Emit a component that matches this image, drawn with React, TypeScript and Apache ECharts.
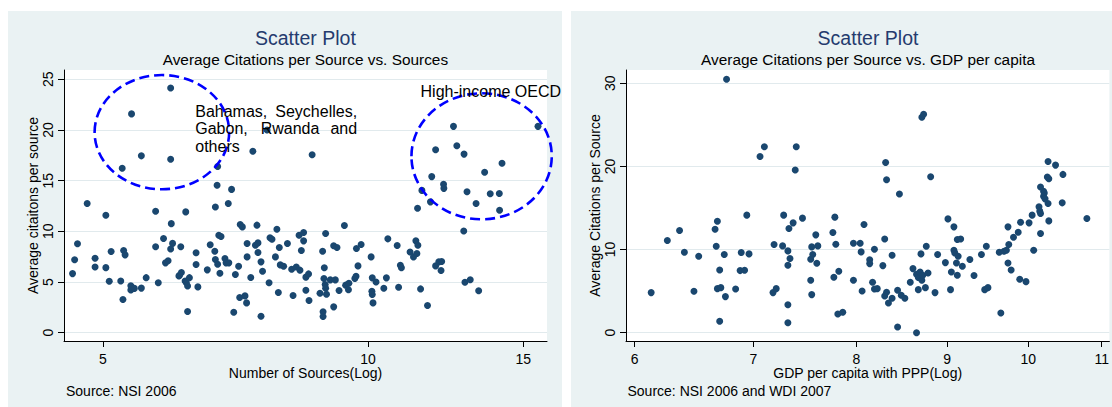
import React, { useEffect, useRef } from 'react';
import * as echarts from 'echarts';

const FONT = "'Liberation Sans', Arial, Helvetica, sans-serif";
const NAVY = '#1A476F';
const TITLE_COLOR = '#253B6E';
const PANEL_BG = '#EAF2F3';
const GRID_LINE = '#E1EAED';

// Left panel: number of sources (log scale) vs average citations per source
const sourcesX = [
  4.80, 4.62, 4.645, 4.68, 4.90, 4.90, 5.04, 5.04, 5.085, 5.11, 5.24, 5.27, 5.28, 5.30, 5.38, 5.38, 5.43, 5.53, 5.60, 5.74,
  5.74, 5.78, 5.86, 5.89, 5.93, 5.97, 5.98, 6.00, 6.10, 6.11, 6.14, 6.13, 6.21, 6.20, 6.22, 6.24, 6.24, 6.27,
  6.71, 6.94, 7.16, 7.20, 7.48, 7.88, 9.40, 11.38, 6.77, 6.81, 6.38, 6.38, 6.41, 6.57, 6.62, 6.70, 6.71, 6.75, 6.79, 6.88,
  6.90, 6.95, 7.04, 7.07, 7.13, 7.15, 7.25, 7.28, 7.29, 7.29, 7.36, 7.45, 7.50, 7.50, 7.56, 7.59, 7.56, 7.72, 7.74, 7.78,
  7.85, 7.91, 7.93, 7.95, 8.02, 8.10, 8.19, 8.22, 8.29, 8.37, 8.35, 8.45, 8.45, 8.40, 8.50, 8.56, 8.50, 8.57, 8.82, 8.88,
  8.92, 8.91, 8.94, 8.95, 8.97, 8.89, 8.89, 8.95, 9.06, 9.18, 9.14, 9.22, 9.14, 9.27, 9.43, 9.51, 9.50, 9.66, 9.69, 9.70,
  9.82, 9.74, 10.08, 10.11, 10.21, 10.10, 10.11, 10.13, 10.42, 10.49, 10.53, 10.79, 10.83, 10.88, 10.91, 11.16, 11.26, 11.33,
  11.39, 11.36, 11.47, 11.68,
  11.77, 11.93, 12.03, 12.10, 12.12, 12.84, 12.88, 13.06, 13.26, 13.35, 14.10,
  5.97, 5.39, 5.53, 5.26, 5.97, 6.75, 6.74, 7.00, 7.40, 8.64, 7.68,
  12.50, 15.59, 12.61, 11.93, 12.85, 14.19, 13.56, 11.81, 12.18, 12.19, 11.51, 12.95, 13.76, 14.09,
];
const citationsA = [
  12.75, 5.83, 7.19, 8.77, 6.49, 7.35, 11.59, 6.42, 5.07, 8.01, 5.10, 3.28, 8.11, 7.68, 4.64, 4.21, 4.37, 4.40, 5.43, 11.99,
  8.48, 4.93, 9.30, 6.89, 7.09, 8.25, 10.76, 8.81, 5.60, 5.66, 5.93, 8.48, 11.92, 5.10, 4.93, 4.60, 2.09, 5.43,
  12.41, 12.74, 10.67, 10.44, 10.61, 10.21, 10.57, 12.28, 9.62, 9.49, 7.88, 6.73, 4.52, 6.20, 8.67, 8.04, 7.22, 6.76, 5.87, 7.32,
  6.89, 6.89, 2.02, 5.74, 6.56, 3.47, 3.63, 2.94, 8.80, 7.48, 5.44, 8.63, 8.86, 7.91, 6.99, 6.07, 1.63, 4.92, 9.36, 9.22,
  7.48, 3.96, 8.40, 6.69, 6.56, 8.80, 6.26, 3.67, 6.49, 6.17, 9.62, 9.88, 9.06, 8.11, 5.48, 5.80, 4.19, 3.17, 3.90, 8.04,
  6.40, 5.34, 4.75, 4.39, 3.80, 2.06, 1.60, 9.78, 5.21, 5.21, 8.57, 8.40, 2.55, 4.16, 4.69, 4.88, 4.23, 5.34, 5.57, 8.30,
  8.70, 6.59, 7.48, 5.41, 5.01, 4.09, 3.77, 2.94, 4.39, 5.41, 9.26, 8.60, 4.49, 6.66, 6.40, 7.97, 7.48, 9.06,
  8.63, 7.81, 4.32, 2.68,
  12.91, 6.59, 6.99, 6.13, 7.02, 10.03, 4.97, 5.23, 12.75, 4.14, 12.09,
  24.14, 21.59, 17.45, 16.23, 17.12, 16.39, 14.54, 14.14, 17.91, 17.55, 20.00,
  20.36, 20.36, 18.44, 18.05, 17.62, 16.72, 15.83, 15.40, 14.64, 14.24, 14.04, 13.91, 13.71, 13.74,
];

// Right panel: GDP per capita with PPP (log scale) vs average citations per source
const gdpX = [
  6.13, 6.26, 6.36, 6.40, 6.48, 6.52, 6.66, 6.67, 6.68, 6.68, 6.70, 6.70, 6.71, 6.74, 6.75, 6.84, 6.88, 6.89, 6.92, 6.94,
  6.96, 7.18, 7.19, 7.21, 7.27, 7.28, 7.32, 7.32, 7.32, 7.32, 7.33, 7.34, 7.37, 7.46, 7.54, 7.54, 7.55, 7.55, 7.56, 7.59,
  7.60, 7.61, 7.76, 7.77, 7.78, 7.79, 7.81, 7.82, 7.86, 7.97, 7.97, 8.04, 8.05, 8.06, 8.08, 8.14, 8.14, 8.17, 8.19, 8.19,
  8.22, 8.28, 8.30, 8.30, 8.32, 8.34, 8.38, 8.38, 8.44, 8.44, 8.48, 8.52, 8.58, 8.61, 8.65, 8.65, 8.67, 8.67, 8.69, 8.70,
  8.71, 8.72, 8.75, 8.76, 8.78, 8.86, 8.89, 8.98, 9.01, 9.04, 9.05, 9.08, 9.08, 9.09, 9.11, 9.12, 9.12, 9.13, 9.16, 9.18,
  9.27, 9.32, 9.41, 9.45, 9.47, 9.49, 9.63, 9.65, 9.69, 9.72, 9.74, 9.74, 9.75, 9.78, 9.81, 9.87, 9.89, 9.90, 9.97, 10.01,
  10.05, 10.07, 10.14, 10.15, 10.16, 10.16, 10.27, 10.26, 10.45, 10.79,
  6.76, 7.06, 7.10, 7.40, 7.39, 8.31, 8.32, 8.46, 8.71, 8.73, 8.81, 10.26, 10.36, 10.25, 10.27, 10.46, 10.16, 10.20, 10.21,
  10.20, 10.22,
];
const citationsB = [
  4.82, 11.08, 12.29, 9.68, 4.98, 9.20, 12.45, 10.40, 13.41, 5.30, 7.55, 1.37, 5.42, 9.40, 4.34, 5.26, 7.47, 9.64, 7.51, 14.14,
  9.48, 4.82, 10.60, 5.30, 10.44, 14.14, 3.37, 1.20, 8.11, 9.84, 12.53, 8.92, 13.21, 13.78, 6.31, 8.84, 10.32, 4.58, 9.40, 11.77,
  8.35, 10.44, 12.05, 6.67, 13.90, 10.64, 2.25, 7.39, 2.45, 6.31, 10.76, 10.76, 9.72, 5.02, 13.01, 8.76, 8.31, 6.06, 10.04, 5.26,
  5.30, 8.07, 11.28, 4.42, 4.86, 3.57, 9.32, 4.14, 5.10, 0.68, 4.50, 4.14, 6.06, 7.71, 0.00, 7.03, 6.63, 5.18, 7.31, 9.48,
  6.31, 6.91, 5.42, 10.40, 7.19, 4.82, 9.40, 8.43, 13.69, 5.18, 7.31, 9.92, 12.73, 9.60, 8.39, 6.91, 11.20, 9.20, 11.28, 7.99,
  8.80, 6.87, 9.40, 5.18, 10.40, 5.42, 9.68, 2.37, 9.80, 9.92, 8.39, 12.73, 10.60, 7.55, 11.49, 12.09, 6.43, 13.29, 6.14, 13.21,
  14.14, 9.92, 15.14, 14.62, 14.34, 11.93, 13.45, 15.54, 15.62, 13.73,
  30.48, 21.20, 22.36, 22.36, 19.56, 20.48, 18.40, 16.68, 25.92, 26.28, 18.76, 20.60, 20.16, 18.72, 18.52, 19.04, 17.52, 17.00, 16.80,
  16.40, 16.10,
];

// Tick values
const leftXTicks = [5, 10, 15];
const leftYTicks = [0, 5, 10, 15, 20, 25];
const rightXTicks = [6, 7, 8, 9, 10, 11];
const rightYTicks = [0, 10, 20, 30];

// Annotation ellipses in data space: [xLeft, xRight, yBottom, yTop]
const ellipseBounds = [
  [4.894, 6.956, 14.15, 25.42],
  [11.2, 16.16, 11.19, 23.62],
];
// Annotation words (justified block) in data space
const noteWords = [
  { text: 'Bahamas,', x: 6.366, y: 21.87, align: 'left' },
  { text: 'Seychelles,', x: 9.718, y: 21.87, align: 'right' },
  { text: 'Gabon,', x: 6.366, y: 20.12, align: 'left' },
  { text: 'Rwanda', x: 7.553, y: 20.12, align: 'left' },
  { text: 'and', x: 9.718, y: 20.12, align: 'right' },
  { text: 'others', x: 6.366, y: 18.39, align: 'left' },
  { text: 'High-income OECD', x: 11.47, y: 23.78, align: 'left' },
];

const pairs = (xs: number[], ys: number[]) => xs.map((x, i) => [x, ys[i]]);

function xAxisOpt(gridIndex: number, min: number, max: number, ticks: number[], name: string) {
  return {
    gridIndex,
    type: 'log',
    logBase: 10,
    min,
    max,
    name,
    nameLocation: 'middle',
    nameGap: 25,
    nameMoveOverlap: false,
    nameTextStyle: { color: '#000', fontSize: 14, lineHeight: 14, fontFamily: FONT },
    axisLine: { onZero: false, lineStyle: { color: '#000', width: 1 } },
    axisTick: { show: true, length: 6, inside: false, customValues: ticks, lineStyle: { color: '#000', width: 1 } },
    axisLabel: {
      customValues: ticks,
      margin: 11,
      color: '#000',
      fontSize: 14,
      lineHeight: 14,
      fontFamily: FONT,
      formatter: (v: number) => String(Math.round(v)),
    },
    splitLine: { show: false },
    minorTick: { show: false },
    minorSplitLine: { show: false },
  };
}

function yAxisOpt(gridIndex: number, min: number, max: number, ticks: number[], name: string) {
  return {
    gridIndex,
    type: 'value',
    min,
    max,
    name,
    nameLocation: 'middle',
    nameGap: 24,
    nameRotate: 90,
    nameMoveOverlap: false,
    nameTextStyle: { color: '#000', fontSize: 14, fontFamily: FONT },
    axisLine: { show: true, onZero: false, lineStyle: { color: '#000', width: 1 } },
    axisTick: { show: true, length: 6, inside: false, customValues: ticks, lineStyle: { color: '#000', width: 1 } },
    axisLabel: {
      customValues: ticks,
      rotate: 90,
      margin: 9,
      color: '#000',
      fontSize: 14,
      fontFamily: FONT,
      formatter: (v: number) => String(Math.round(v)),
    },
    splitLine: { show: true, lineStyle: { color: GRID_LINE, width: 1 } },
  };
}

const pointStyle = { color: NAVY, opacity: 1 };

export default function App() {
  const ref = useRef<HTMLDivElement>(null);
  useEffect(() => {
    document.body.style.margin = '0';
    const chart = echarts.init(ref.current!, null, { renderer: 'svg' });
    const option: any = {
      animation: false,
      textStyle: { fontFamily: FONT },
      graphic: [
        { type: 'rect', z: -10, shape: { x: 8, y: 11, width: 554, height: 396 }, style: { fill: PANEL_BG }, silent: true },
        { type: 'rect', z: -10, shape: { x: 571, y: 11, width: 541, height: 396 }, style: { fill: PANEL_BG }, silent: true },
        { type: 'text', x: 305.4, y: 37.5, style: { text: 'Scatter Plot', fill: TITLE_COLOR, font: `19.5px ${FONT}`, textAlign: 'center', textVerticalAlign: 'middle', align: 'center', verticalAlign: 'middle' } },
        { type: 'text', x: 305.4, y: 59.8, style: { text: 'Average Citations per Source vs. Sources', fill: '#000', font: `15.4px ${FONT}`, textAlign: 'center', textVerticalAlign: 'middle', align: 'center', verticalAlign: 'middle' } },
        { type: 'text', x: 868, y: 37.5, style: { text: 'Scatter Plot', fill: TITLE_COLOR, font: `19.5px ${FONT}`, textAlign: 'center', textVerticalAlign: 'middle', align: 'center', verticalAlign: 'middle' } },
        { type: 'text', x: 868, y: 59.8, style: { text: 'Average Citations per Source vs. GDP per capita', fill: '#000', font: `15.4px ${FONT}`, textAlign: 'center', textVerticalAlign: 'middle', align: 'center', verticalAlign: 'middle' } },
        { type: 'text', x: 66, y: 391, style: { text: 'Source: NSI 2006', fill: '#000', font: `14px ${FONT}`, textAlign: 'left', textVerticalAlign: 'middle', align: 'left', verticalAlign: 'middle' } },
        { type: 'text', x: 627.5, y: 391, style: { text: 'Source: NSI 2006 and WDI 2007', fill: '#000', font: `14px ${FONT}`, textAlign: 'left', textVerticalAlign: 'middle', align: 'left', verticalAlign: 'middle' } },
      ],
      grid: [
        { left: 64, top: 70, width: 483, height: 271, show: true, backgroundColor: '#FFFFFF', borderWidth: 0, containLabel: false },
        { left: 626, top: 70, width: 484, height: 271, show: true, backgroundColor: '#FFFFFF', borderWidth: 0, containLabel: false },
      ],
      xAxis: [
        xAxisOpt(0, 4.518, 15.96, leftXTicks, 'Number of Sources(Log)'),
        xAxisOpt(1, 5.933, 11.11, rightXTicks, 'GDP per capita with PPP(Log)'),
      ],
      yAxis: [
        yAxisOpt(0, -0.82, 25.92, leftYTicks, 'Average citaitons per source'),
        yAxisOpt(1, -1.0, 31.6, rightYTicks, 'Average Citations per Source'),
      ],
      series: [
        {
          type: 'scatter',
          xAxisIndex: 0,
          yAxisIndex: 0,
          symbol: 'circle',
          symbolSize: 7,
          itemStyle: pointStyle,
          data: pairs(sourcesX, citationsA),
        },
        {
          type: 'scatter',
          xAxisIndex: 1,
          yAxisIndex: 1,
          symbol: 'circle',
          symbolSize: 7,
          itemStyle: pointStyle,
          data: pairs(gdpX, citationsB),
        },
        {
          type: 'custom',
          xAxisIndex: 0,
          yAxisIndex: 0,
          clip: false,
          silent: true,
          z: 5,
          data: ellipseBounds,
          encode: { x: [0, 1], y: [2, 3] },
          renderItem: (params: any, api: any) => {
            const p1 = api.coord([api.value(0), api.value(2)]);
            const p2 = api.coord([api.value(1), api.value(3)]);
            return {
              type: 'ellipse',
              shape: {
                cx: (p1[0] + p2[0]) / 2,
                cy: (p1[1] + p2[1]) / 2,
                rx: Math.abs(p2[0] - p1[0]) / 2,
                ry: Math.abs(p1[1] - p2[1]) / 2,
              },
              style: { fill: 'none', stroke: '#0000FF', lineWidth: 2.6, lineDash: [10, 5] },
            };
          },
        },
        {
          type: 'custom',
          xAxisIndex: 0,
          yAxisIndex: 0,
          clip: false,
          silent: true,
          z: 6,
          data: noteWords.map((w) => [w.x, w.y]),
          encode: { x: 0, y: 1 },
          renderItem: (params: any, api: any) => {
            const w = noteWords[params.dataIndex];
            const p = api.coord([api.value(0), api.value(1)]);
            return {
              type: 'text',
              x: p[0],
              y: p[1],
              style: {
                text: w.text,
                fill: '#000',
                font: `16px ${FONT}`,
                textAlign: w.align,
                textVerticalAlign: 'middle',
                align: w.align,
                verticalAlign: 'middle',
              },
            };
          },
        },
      ],
    };
    chart.setOption(option);
    return () => chart.dispose();
  }, []);
  return <div ref={ref} style={{ position: 'absolute', left: 0, top: 0, width: 1112, height: 407 }} />;
}
